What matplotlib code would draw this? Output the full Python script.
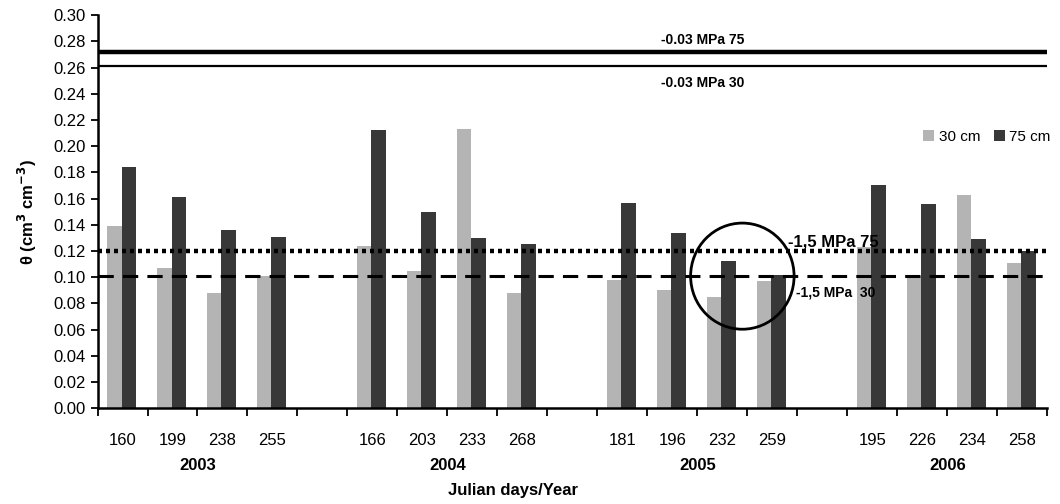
import matplotlib.pyplot as plt
from matplotlib.patches import Ellipse
from matplotlib.transforms import blended_transform_factory

years = ['2003', '2004', '2005', '2006']
days = [
    ['160', '199', '238', '255'],
    ['166', '203', '233', '268'],
    ['181', '196', '232', '259'],
    ['195', '226', '234', '258'],
]
theta_30 = [
    [0.139, 0.107, 0.088, 0.101],
    [0.124, 0.105, 0.213, 0.088],
    [0.098, 0.090, 0.085, 0.097],
    [0.123, 0.101, 0.163, 0.111],
]
theta_75 = [
    [0.184, 0.161, 0.136, 0.131],
    [0.212, 0.150, 0.130, 0.125],
    [0.157, 0.134, 0.112, 0.102],
    [0.170, 0.156, 0.129, 0.120],
]
fc_75 = 0.272   # -0.03 MPa, 75 cm
fc_30 = 0.261   # -0.03 MPa, 30 cm
wp_75 = 0.120   # -1.5 MPa, 75 cm
wp_30 = 0.101   # -1.5 MPa, 30 cm

light = '#b3b4b3'
dark = '#383838'

plt.rcParams['font.family'] = ['Liberation Sans', 'DejaVu Sans']

fig, ax = plt.subplots(figsize=(10.6, 5.04), dpi=100)
fig.subplots_adjust(left=0.092, right=0.988, top=0.97, bottom=0.19)

# positions: 4 slots per year plus one empty slot between years
centers = []
labels = []
v30 = []
v75 = []
year_centers = []
slot = 0
for yi, yr in enumerate(years):
    year_centers.append(slot + 2)
    for di, d in enumerate(days[yi]):
        centers.append(slot + 0.5)
        labels.append(d)
        v30.append(theta_30[yi][di])
        v75.append(theta_75[yi][di])
        slot += 1
    slot += 1
nslots = slot - 1

w = 0.29
ax.bar([c - w / 2 - 0.02 for c in centers], v30, width=w, color=light, label='30 cm')
ax.bar([c + w / 2 - 0.02 for c in centers], v75, width=w, color=dark, label='75 cm')

ax.axhline(fc_75, color='black', lw=3.2)
ax.axhline(fc_30, color='black', lw=1.6)
ax.axhline(wp_75, color='black', lw=3.2, ls=(0, (0.9, 0.9)))
ax.axhline(wp_30, color='black', lw=2.2, ls=(0, (5, 3)))

ax.text(11.28, fc_75 + 0.009, '-0.03 MPa 75', fontsize=10, fontweight='bold',
        va='center', ha='left')
ax.text(11.28, fc_30 - 0.013, '-0.03 MPa 30', fontsize=10, fontweight='bold',
        va='center', ha='left')
ax.text(13.82, 0.1265, '-1,5 MPa 75', fontsize=12, fontweight='bold',
        va='center', ha='left')
ax.text(13.98, 0.0885, '-1,5 MPa  30', fontsize=10, fontweight='bold',
        va='center', ha='left')

ax.add_patch(Ellipse((12.9, 0.1008), 2.07, 0.081, fill=False, edgecolor='black', lw=2))

ax.set_xlim(0, nslots)
ax.set_ylim(0, 0.30)
ax.set_yticks([i * 0.02 for i in range(16)])
ax.set_yticklabels(['%.2f' % (i * 0.02) for i in range(16)], fontsize=12)
ax.set_xticks(range(nslots + 1))
ax.set_xticklabels([])
ax.set_xticks(centers, minor=True)
ax.set_xticklabels(labels, minor=True, fontsize=12)
ax.tick_params(axis='x', which='minor', length=0, pad=18)
ax.tick_params(axis='x', which='major', length=6, width=1.3, direction='out')
ax.tick_params(axis='y', length=5, width=1.3, direction='out')

trans = blended_transform_factory(ax.transData, ax.transAxes)
for yc, yr in zip(year_centers, years):
    ax.text(yc, -0.145, yr, transform=trans, ha='center', va='center', fontsize=12, fontweight='bold')

ax.set_xlabel('Julian days/Year', fontsize=12, fontweight='bold')
ax.xaxis.set_label_coords(0.437, -0.209)
ax.xaxis.label.set_va('center')
ax.set_ylabel(r'θ (cm$^\mathbf{3}$ cm$^\mathbf{-3}$)', fontsize=12, fontweight='bold', labelpad=10)

for s in ['top', 'right']:
    ax.spines[s].set_visible(False)
for s in ['left', 'bottom']:
    ax.spines[s].set_linewidth(1.8)

ax.legend(loc='center right', bbox_to_anchor=(1.018, 0.69), ncol=2, frameon=False,
          fontsize=11, handlelength=0.7, handleheight=0.7, handletextpad=0.3, columnspacing=0.9)

fig.savefig('out.png', dpi=100)
